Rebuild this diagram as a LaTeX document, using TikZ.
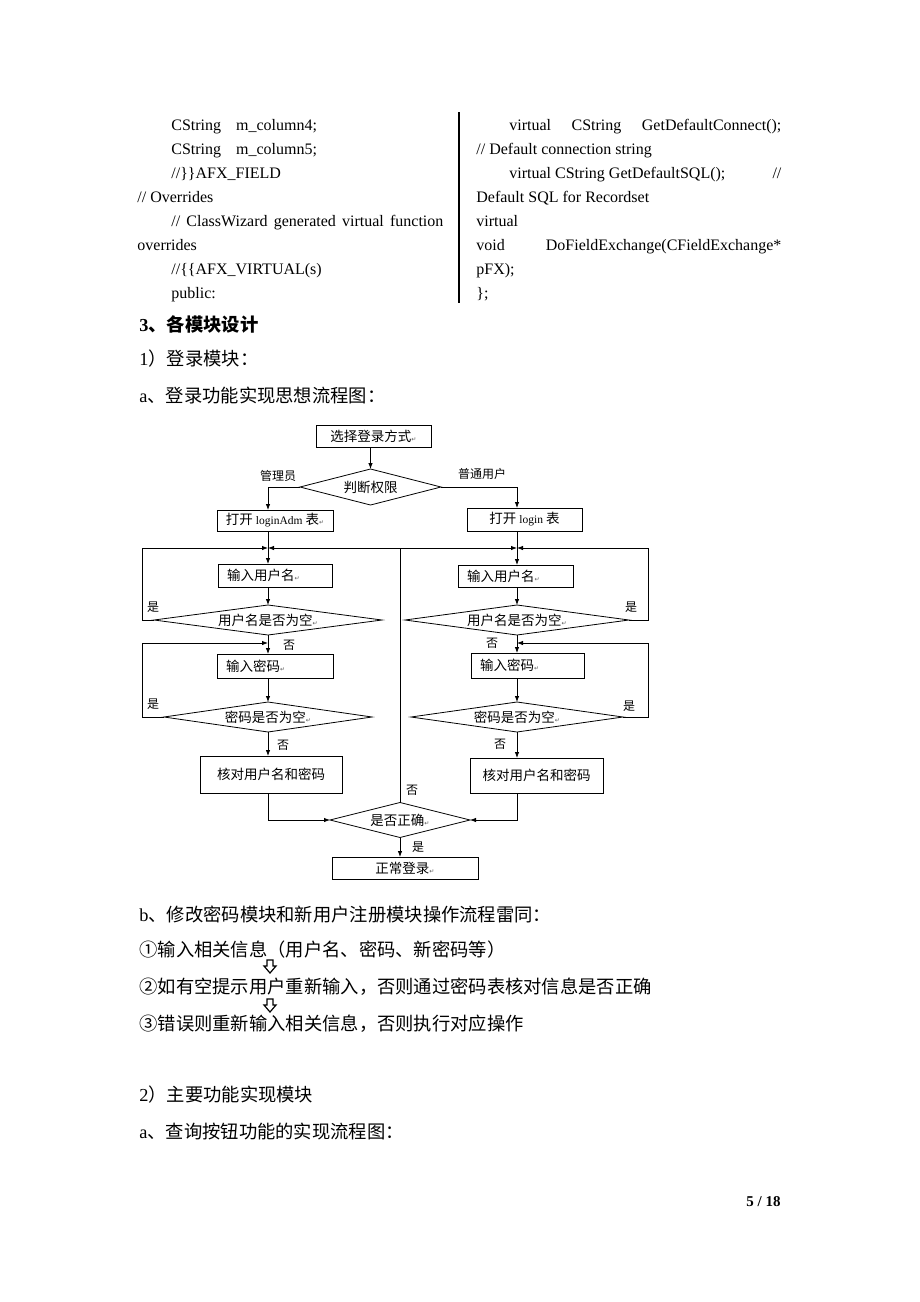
\documentclass[tikz,border=0pt]{standalone}
\usepackage{fontspec}
\setmainfont{Liberation Serif}
\newfontfamily\cjk{Noto Sans CJK SC}
\newfontfamily\symf{DejaVu Sans}
\usetikzlibrary{shapes.geometric,arrows.meta}
\newcommand\pmark{{\symf\fontsize{6}{6}\selectfont\textcolor{black!65}{↵}}}
\newcommand\lat[1]{{\rmfamily\fontsize{11.5}{12}\selectfont #1}}
\tikzset{
  code/.style={anchor=base west, inner sep=0pt, font=\fontsize{16}{19}\selectfont},
  body/.style={anchor=base west, inner sep=0pt, font=\fontsize{18.3}{22}\selectfont},
  fbox/.style={draw, inner sep=0pt, outer sep=0pt, font=\cjk\fontsize{13.5}{15}\selectfont},
  lbox/.style={fbox, inner xsep=9pt, text width=#1, align=left},
  fdia/.style={draw, diamond, inner sep=0pt, outer sep=0pt, font=\cjk\fontsize{13.5}{15}\selectfont},
  flbl/.style={inner sep=0pt, font=\cjk\fontsize{12}{13}\selectfont},
  flow/.style={-{Latex[length=6pt,width=4.5pt]}},
  hollow/.style={line width=1.2pt, line join=miter},
}
\begin{document}
\begin{tikzpicture}[x=1pt,y=-1pt,line width=0.8pt]
\fill[white] (0,0) rectangle (920,1302);
\useasboundingbox (0,0) rectangle (920,1302);

% code, two columns
\node[code] (c1) at (171,130) {CString\hspace{15pt}m\_column4;};
\node[code] (c2) at (171,154) {CString\hspace{15pt}m\_column5;};
\node[code] (c3) at (171,178) {//\}\}AFX\_FIELD};
\node[code] (c4) at (137,202) {// Overrides};
\node[code] (c5) at (171,226) {\makebox[272pt][s]{// ClassWizard generated virtual function}};
\node[code] (c6) at (137,250) {overrides};
\node[code] (c7) at (171,274) {//\{\{AFX\_VIRTUAL(s)};
\node[code] (c8) at (171,298) {public:};
\draw[line width=2pt] (459,112) -- (459,303);
\node[code] (d1) at (509,130) {\makebox[272pt][s]{virtual CString GetDefaultConnect();}};
\node[code] (d2) at (476,154) {// Default connection string};
\node[code] (d3) at (509,178) {\makebox[272pt][l]{virtual CString GetDefaultSQL();\hfill //}};
\node[code] (d4) at (476,202) {Default SQL for Recordset};
\node[code] (d5) at (476,226) {virtual};
\node[code] (d6) at (476,250) {\makebox[305pt][l]{void\hfill DoFieldExchange(CFieldExchange*}};
\node[code] (d7) at (476,274) {pFX);};
\node[code] (d8) at (476,298) {\};};

% headings
\node[body] (h3) at (139,331) {\bfseries 3{\cjk\bfseries 、各模块设计}};
\node[body] (h31) at (139,365) {1{\cjk ）登录模块：}};
\node[body] (h31a) at (139,402) {a{\cjk 、登录功能实现思想流程图：}};

% login flow chart
\node[fbox, minimum width=115pt, minimum height=22pt] (choose) at (373.5,436) {选择登录方式\pmark};
\node[fdia, minimum width=141pt, minimum height=36pt, aspect=3.9] (judge) at (370.5,487) {判断权限};
\node[fbox, minimum width=116pt, minimum height=21pt] (adm) at (275,520.5) {打开 \lat{loginAdm} 表\pmark};
\node[fbox, minimum width=115pt, minimum height=23pt] (login) at (524.5,519.5) {打开 \lat{login} 表};

\coordinate (jL) at (268,548);
\coordinate (jR) at (517,548);
\coordinate (kL) at (268,643);
\coordinate (kR) at (517,643);
\coordinate (lpL) at (142,548);
\coordinate (lqL) at (142,643);
\coordinate (lpR) at (648,548);
\coordinate (lqR) at (648,643);

\node[lbox=96pt, minimum height=23pt] (unL) at (275,575.5) {输入用户名\pmark};
\node[lbox=97pt, minimum height=22pt] (unR) at (515.5,576) {输入用户名\pmark};
\node[fdia, minimum width=228pt, minimum height=30pt, aspect=7.6] (ueL) at (268,620) {用户名是否为空\pmark};
\node[fdia, minimum width=224pt, minimum height=30pt, aspect=7.5] (ueR) at (517,620) {用户名是否为空\pmark};
\node[lbox=98pt, minimum height=24pt] (pwL) at (275,666) {输入密码\pmark};
\node[lbox=95pt, minimum height=25pt] (pwR) at (527.5,665.5) {输入密码\pmark};
\node[fdia, minimum width=208pt, minimum height=30pt, aspect=6.9] (peL) at (268,717) {密码是否为空\pmark};
\node[fdia, minimum width=212pt, minimum height=30pt, aspect=7] (peR) at (517,717) {密码是否为空\pmark};
\node[fbox, minimum width=142pt, minimum height=37pt] (ckL) at (271,774.5) {核对用户名和密码};
\node[fbox, minimum width=133pt, minimum height=35pt] (ckR) at (536.5,775.5) {核对用户名和密码};
\node[fdia, minimum width=140pt, minimum height=35pt, aspect=4] (ok) at (400,820) {是否正确\pmark};
\node[fbox, minimum width=146pt, minimum height=22pt] (fin) at (405,868) {正常登录\pmark};

\draw[flow] (choose.south -| judge.north) -- (judge.north);
\draw[flow] (judge.west) -| (adm.north -| jL);
\draw[flow] (judge.east) -| (login.north -| jR);
\draw[flow] (adm.south -| jL) -- (unL.north -| jL);
\draw[flow] (login.south -| jR) -- (unR.north -| jR);
\draw[flow] (unL.south -| ueL.north) -- (ueL.north);
\draw[flow] (unR.south -| ueR.north) -- (ueR.north);
\draw[flow] (ueL.west) -| (lpL) -- (jL);
\draw[flow] (ueR.east) -| (lpR) -- (jR);
\draw[flow] (ueL.south) -- (pwL.north -| ueL.south);
\draw[flow] (ueR.south) -- (pwR.north -| ueR.south);
\draw[flow] (peL.west) -| (lqL) -- (kL);
\draw[flow] (peR.east) -| (lqR) -- (kR);
\draw[flow] (pwL.south -| peL.north) -- (peL.north);
\draw[flow] (pwR.south -| peR.north) -- (peR.north);
\draw[flow] (peL.south) -- (ckL.north -| peL.south);
\draw[flow] (peR.south) -- (ckR.north -| peR.south);
\draw[flow] (ckL.south -| jL) |- (ok.west);
\draw[flow] (ckR.south -| jR) |- (ok.east);
\draw (ok.north) -- (ok.north |- jL);
\draw[flow] (ok.north |- jL) -- (jL);
\draw[flow] (ok.north |- jL) -- (jR);
\draw[flow] (ok.south) -- (fin.north -| ok.south);

\node[flbl] (lbA) at (278,476) {管理员};
\node[flbl] (lbU) at (482,474) {普通用户};
\node[flbl] (y1L) at (153,607) {是};
\node[flbl] (n1L) at (289,645) {否};
\node[flbl] (y2L) at (153,704) {是};
\node[flbl] (n2L) at (283,745) {否};
\node[flbl] (y1R) at (631,607) {是};
\node[flbl] (n1R) at (492,643) {否};
\node[flbl] (y2R) at (629,706) {是};
\node[flbl] (n2R) at (500,744) {否};
\node[flbl] (nOk) at (412,790) {否};
\node[flbl] (yOk) at (418,847) {是};

% text below the chart
\node[body] (tb) at (139,921) {b{\cjk 、修改密码模块和新用户注册模块操作流程雷同：}};
\node[body] (t1) at (139,956) {\cjk ①输入相关信息（用户名、密码、新密码等）};
\draw[hollow] (267,960) -- (273,960) -- (273,966) -- (276,966) -- (270,973) -- (264,966) -- (267,966) -- cycle;
\node[body] (t2) at (139,993) {\cjk ②如有空提示用户重新输入，否则通过密码表核对信息是否正确};
\draw[hollow] (267,999) -- (273,999) -- (273,1005) -- (276,1005) -- (270,1012) -- (264,1005) -- (267,1005) -- cycle;
\node[body] (t3) at (139,1030) {\cjk ③错误则重新输入相关信息，否则执行对应操作};
\node[body] (h32) at (139,1101) {2{\cjk ）主要功能实现模块}};
\node[body] (h32a) at (139,1138) {a{\cjk 、查询按钮功能的实现流程图：}};

\node[anchor=base east, inner sep=0pt, font=\bfseries\fontsize{15}{18}\selectfont] (pg) at (781,1206) {5 / 18};
\end{tikzpicture}
\end{document}
